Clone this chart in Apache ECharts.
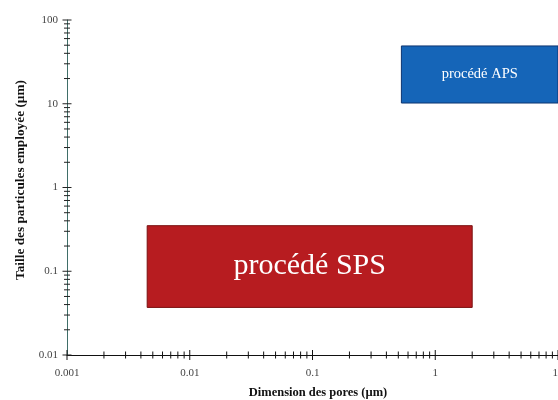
<!DOCTYPE html>
<html><head><meta charset="utf-8">
<script src="https://cdn.jsdelivr.net/npm/echarts@6/dist/echarts.min.js"></script>
<style>html,body{margin:0;padding:0;background:#fff}#c{width:558px;height:400px}</style>
</head><body><div id="c"></div>
<script>
// Tick labels
const xTickLabels = ['0.001', '0.01', '0.1', '1', '10'];
const yTickLabels = ['0.01', '0.1', '1', '10', '100'];
// Regions (rectangles)
const regionNames = ['procédé SPS', 'procédé APS'];
const regionXMin = [0.0045, 0.53];
const regionXMax = [2.0, 10];
const regionYMin = [0.037, 10.2];
const regionYMax = [0.35, 49];

const xMin = Number(xTickLabels[0]), xMax = Number(xTickLabels[xTickLabels.length - 1]);
const yMin = Number(yTickLabels[0]), yMax = Number(yTickLabels[yTickLabels.length - 1]);

function tickValues(labels) {
  const out = [];
  labels.forEach((l, i) => {
    const d = Number(l);
    out.push([d, 1]);
    if (i < labels.length - 1) for (let k = 2; k <= 9; k++) out.push([k * d, 0]);
  });
  return out;
}
const xTicks = tickValues(xTickLabels);
const yTicks = tickValues(yTickLabels);

function fmt(labels) {
  return function (v) {
    const lg = Math.round(Math.log10(v));
    for (const l of labels) if (Math.round(Math.log10(Number(l))) === lg) return l;
    return '';
  };
}

const colors = ['#b71c20', '#1565b8'];
const borders = ['#7a1010', '#0d3570'];
const fontSizes = [30, 14.5];

const chart = echarts.init(document.getElementById('c'));
chart.setOption({
  animation: false,
  backgroundColor: '#fff',
  grid: { left: 67, right: 0, top: 20, bottom: 45, outerBoundsMode: 'none', containLabel: false },
  xAxis: {
    type: 'log', logBase: 10, min: xMin, max: xMax,
    name: 'Dimension des pores (µm)', nameLocation: 'middle', nameGap: 31,
    nameTextStyle: { fontFamily: 'Liberation Serif', fontWeight: 'bold', fontSize: 12.5, color: '#111', padding: [0, 0, 0, 11] },
    axisLine: { lineStyle: { color: '#111', width: 1 } },
    axisTick: { show: false },
    splitLine: { show: false },
    axisLabel: { formatter: fmt(xTickLabels), fontFamily: 'Liberation Serif', fontSize: 11, color: '#444', margin: 13, showMaxLabel: true, showMinLabel: true }
  },
  yAxis: {
    type: 'log', logBase: 10, min: yMin, max: yMax,
    name: 'Taille des particules employée (µm)', nameLocation: 'middle', nameGap: 40,
    nameTextStyle: { fontFamily: 'Liberation Serif', fontWeight: 'bold', fontSize: 13.3, color: '#111', padding: [0, 0, 0, 15] },
    axisLine: { lineStyle: { color: '#3f6e68', width: 1 } },
    axisTick: { show: false },
    splitLine: { show: false },
    axisLabel: { formatter: fmt(yTickLabels), fontFamily: 'Liberation Serif', fontSize: 11, color: '#444', margin: 9 }
  },
  series: [
    {
      type: 'custom',
      clip: false,
      data: regionNames.map((n, i) => [regionXMin[i], regionYMin[i], regionXMax[i], regionYMax[i], i]),
      renderItem: function (params, api) {
        const i = api.value(4);
        const p0 = api.coord([api.value(0), api.value(3)]);
        const p1 = api.coord([api.value(2), api.value(1)]);
        const w = p1[0] - p0[0], h = p1[1] - p0[1];
        return {
          type: 'group',
          children: [
            { type: 'rect', shape: { x: p0[0], y: p0[1], width: w, height: h },
              style: { fill: colors[i], stroke: borders[i], lineWidth: 1 } },
            { type: 'text', x: p0[0] + w / 2, y: p0[1] + h / 2,
              style: { text: regionNames[i], fill: '#fff', fontFamily: 'Liberation Serif', fontSize: fontSizes[i], align: 'center', verticalAlign: 'middle' } }
          ]
        };
      }
    },
    {
      type: 'custom',
      clip: false,
      data: xTicks,
      renderItem: function (params, api) {
        const p = api.coord([api.value(0), yMin]);
        const L = api.value(1) ? 5 : 3.5;
        return { type: 'line', shape: { x1: p[0], y1: p[1] - L, x2: p[0], y2: p[1] + L }, style: { stroke: '#111', lineWidth: 1 } };
      }
    },
    {
      type: 'custom',
      clip: false,
      data: yTicks,
      renderItem: function (params, api) {
        const p = api.coord([xMin, api.value(0)]);
        const L = api.value(1) ? 4.5 : 3;
        return { type: 'line', shape: { x1: p[0] - L, y1: p[1], x2: p[0] + L, y2: p[1] }, style: { stroke: '#222', lineWidth: 1 } };
      }
    }
  ]
});
</script>
</body></html>
